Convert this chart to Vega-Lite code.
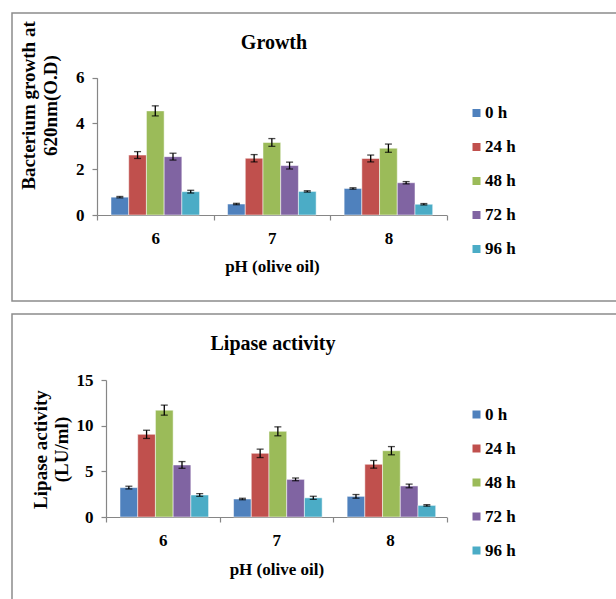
{
  "$schema": "https://vega.github.io/schema/vega-lite/v6.json",
  "padding": {"left": 11, "top": 12, "right": 0, "bottom": 0},
  "background": "white",
  "spacing": 13,
  "bounds": "flush",
  "config": {
    "font": "Liberation Serif",
    "view": {"stroke": "#8c8c8c", "strokeWidth": 1.5},
    "axis": {
      "grid": false,
      "labelFont": "Liberation Serif",
      "titleFont": "Liberation Serif",
      "labelFontWeight": "bold",
      "titleFontWeight": "bold",
      "labelColor": "black",
      "titleColor": "black",
      "domainColor": "#868686",
      "tickColor": "#868686",
      "domainWidth": 1.2,
      "tickWidth": 1.2
    }
  },
  "resolve": {"legend": {"color": "independent"}},
  "vconcat": [
    {
      "width": 610,
      "height": 288,
      "title": {"text": "Growth", "frame": "group", "anchor": "middle", "dx": -43, "dy": 56, "offset": 0, "baseline": "alphabetic", "fontSize": 20, "font": "Liberation Serif", "fontWeight": "bold", "color": "black"},
      "data": {"values": [
        {"pH": "6", "time": "0 h", "value": 0.78, "lo": 0.75, "hi": 0.81},
        {"pH": "6", "time": "24 h", "value": 2.62, "lo": 2.47, "hi": 2.77},
        {"pH": "6", "time": "48 h", "value": 4.55, "lo": 4.33, "hi": 4.77},
        {"pH": "6", "time": "72 h", "value": 2.55, "lo": 2.40, "hi": 2.70},
        {"pH": "6", "time": "96 h", "value": 1.02, "lo": 0.96, "hi": 1.08},
        {"pH": "7", "time": "0 h", "value": 0.48, "lo": 0.45, "hi": 0.51},
        {"pH": "7", "time": "24 h", "value": 2.48, "lo": 2.32, "hi": 2.64},
        {"pH": "7", "time": "48 h", "value": 3.17, "lo": 3.00, "hi": 3.34},
        {"pH": "7", "time": "72 h", "value": 2.16, "lo": 2.01, "hi": 2.31},
        {"pH": "7", "time": "96 h", "value": 1.03, "lo": 1.00, "hi": 1.06},
        {"pH": "8", "time": "0 h", "value": 1.16, "lo": 1.13, "hi": 1.19},
        {"pH": "8", "time": "24 h", "value": 2.47, "lo": 2.32, "hi": 2.62},
        {"pH": "8", "time": "48 h", "value": 2.92, "lo": 2.74, "hi": 3.10},
        {"pH": "8", "time": "72 h", "value": 1.41, "lo": 1.36, "hi": 1.46},
        {"pH": "8", "time": "96 h", "value": 0.47, "lo": 0.44, "hi": 0.50}
      ]},
      "encoding": {
        "x": {"field": "pH", "type": "nominal", "scale": {"range": [85, 434.7], "paddingInner": 0, "paddingOuter": 0},
          "axis": {"title": "pH (olive oil)", "orient": "bottom", "offset": -86, "tickBand": "extent", "tickSize": 5, "labelPadding": 10, "labelAngle": 0, "labelFontSize": 17, "titleFontSize": 17, "titlePadding": 12}},
        "xOffset": {"field": "time", "type": "nominal", "scale": {"paddingInner": 0, "paddingOuter": 0.79}}
      },
      "layer": [
        {
          "mark": {"type": "bar", "stroke": "white", "strokeOpacity": 0.5, "strokeWidth": 1},
          "encoding": {
            "y": {"field": "value", "type": "quantitative", "scale": {"domain": [0, 6], "range": [202, 64.7], "nice": false},
              "axis": {"title": ["Bacterium growth at", "620nm(O.D)"], "offset": -85, "values": [0, 2, 4, 6], "tickSize": 5, "labelPadding": 8, "labelFontSize": 17, "titleFontSize": 19, "titleX": -59, "titleY": 92, "titleLineHeight": 22, "titleAngle": -90, "titleAlign": "center", "titleBaseline": "bottom"}},
            "color": {"field": "time", "type": "nominal",
              "scale": {"domain": ["0 h", "24 h", "48 h", "72 h", "96 h"], "range": ["#4F81BD", "#C0504D", "#9BBB59", "#8064A2", "#4BACC6"]},
              "legend": {"title": null, "orient": "none", "legendX": 456, "legendY": 91.5, "symbolType": "square", "symbolSize": 64, "symbolStrokeWidth": 0, "labelFontSize": 17, "labelFont": "Liberation Serif", "labelFontWeight": "bold", "labelColor": "black", "rowPadding": 16, "labelOffset": 0, "padding": 0}}
          }
        },
        {
          "mark": {"type": "rule", "color": "black", "strokeWidth": 1.3},
          "encoding": {"y": {"field": "lo", "type": "quantitative"}, "y2": {"field": "hi"}}
        },
        {
          "mark": {"type": "tick", "color": "black", "thickness": 1.3},
          "encoding": {"y": {"field": "lo", "type": "quantitative"}, "size": {"value": 7}}
        },
        {
          "mark": {"type": "tick", "color": "black", "thickness": 1.3},
          "encoding": {"y": {"field": "hi", "type": "quantitative"}, "size": {"value": 7}}
        }
      ]
    },
    {
      "width": 610,
      "height": 300,
      "title": {"text": "Lipase activity", "frame": "group", "anchor": "middle", "dx": -44, "dy": 56, "offset": 0, "baseline": "alphabetic", "fontSize": 20, "font": "Liberation Serif", "fontWeight": "bold", "color": "black"},
      "data": {"values": [
        {"pH": "6", "time": "0 h", "value": 3.22, "lo": 3.07, "hi": 3.37},
        {"pH": "6", "time": "24 h", "value": 9.05, "lo": 8.60, "hi": 9.50},
        {"pH": "6", "time": "48 h", "value": 11.7, "lo": 11.15, "hi": 12.25},
        {"pH": "6", "time": "72 h", "value": 5.7, "lo": 5.33, "hi": 6.07},
        {"pH": "6", "time": "96 h", "value": 2.41, "lo": 2.26, "hi": 2.56},
        {"pH": "7", "time": "0 h", "value": 1.97, "lo": 1.89, "hi": 2.05},
        {"pH": "7", "time": "24 h", "value": 6.97, "lo": 6.51, "hi": 7.43},
        {"pH": "7", "time": "48 h", "value": 9.38, "lo": 8.89, "hi": 9.87},
        {"pH": "7", "time": "72 h", "value": 4.12, "lo": 3.97, "hi": 4.27},
        {"pH": "7", "time": "96 h", "value": 2.1, "lo": 1.93, "hi": 2.27},
        {"pH": "8", "time": "0 h", "value": 2.26, "lo": 2.06, "hi": 2.46},
        {"pH": "8", "time": "24 h", "value": 5.77, "lo": 5.35, "hi": 6.19},
        {"pH": "8", "time": "48 h", "value": 7.26, "lo": 6.81, "hi": 7.71},
        {"pH": "8", "time": "72 h", "value": 3.4, "lo": 3.2, "hi": 3.6},
        {"pH": "8", "time": "96 h", "value": 1.27, "lo": 1.19, "hi": 1.35}
      ]},
      "encoding": {
        "x": {"field": "pH", "type": "nominal", "scale": {"range": [94, 434.7], "paddingInner": 0, "paddingOuter": 0},
          "axis": {"title": "pH (olive oil)", "orient": "bottom", "offset": -97, "tickBand": "extent", "tickSize": 5, "labelPadding": 10, "labelAngle": 0, "labelFontSize": 17, "titleFontSize": 17, "titlePadding": 13}},
        "xOffset": {"field": "time", "type": "nominal", "scale": {"paddingInner": 0, "paddingOuter": 0.79}}
      },
      "layer": [
        {
          "mark": {"type": "bar", "stroke": "white", "strokeOpacity": 0.5, "strokeWidth": 1},
          "encoding": {
            "y": {"field": "value", "type": "quantitative", "scale": {"domain": [0, 15], "range": [203, 66], "nice": false},
              "axis": {"title": ["Lipase activity", "(LU/ml)"], "offset": -94, "values": [0, 5, 10, 15], "tickSize": 5, "labelPadding": 8, "labelFontSize": 17, "titleFontSize": 19, "titleX": -56, "titleY": 135, "titleLineHeight": 21, "titleAngle": -90, "titleAlign": "center", "titleBaseline": "bottom"}},
            "color": {"field": "time", "type": "nominal",
              "scale": {"domain": ["0 h", "24 h", "48 h", "72 h", "96 h"], "range": ["#4F81BD", "#C0504D", "#9BBB59", "#8064A2", "#4BACC6"]},
              "legend": {"title": null, "orient": "none", "legendX": 456, "legendY": 92, "symbolType": "square", "symbolSize": 64, "symbolStrokeWidth": 0, "labelFontSize": 17, "labelFont": "Liberation Serif", "labelFontWeight": "bold", "labelColor": "black", "rowPadding": 16, "labelOffset": 0, "padding": 0}}
          }
        },
        {
          "mark": {"type": "rule", "color": "black", "strokeWidth": 1.3},
          "encoding": {"y": {"field": "lo", "type": "quantitative"}, "y2": {"field": "hi"}}
        },
        {
          "mark": {"type": "tick", "color": "black", "thickness": 1.3},
          "encoding": {"y": {"field": "lo", "type": "quantitative"}, "size": {"value": 7}}
        },
        {
          "mark": {"type": "tick", "color": "black", "thickness": 1.3},
          "encoding": {"y": {"field": "hi", "type": "quantitative"}, "size": {"value": 7}}
        }
      ]
    }
  ]
}
